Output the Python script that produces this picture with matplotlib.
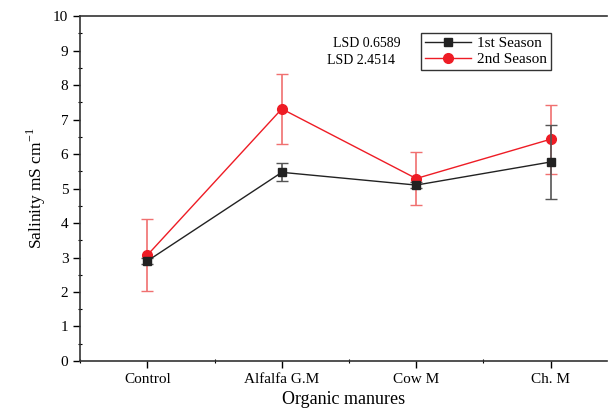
import numpy as np
import matplotlib.pyplot as plt
from matplotlib.ticker import MultipleLocator
from matplotlib.lines import Line2D

plt.rcParams['font.family'] = ['Liberation Serif', 'DejaVu Serif']

# data
categories = ['Control', 'Alfalfa G.M', 'Cow M', 'Ch. M']
season1 = [2.90, 5.47, 5.10, 5.77]
season1_err = [0.10, 0.26, 0.08, 1.07]
season2 = [3.07, 7.31, 5.29, 6.43]
season2_err = [1.05, 1.01, 0.78, 1.00]
lsd_labels = ['LSD 0.6589', 'LSD 2.4514']

x = np.arange(1, len(categories) + 1)

fig = plt.figure(figsize=(6.12, 4.13), dpi=100)
ax = fig.add_axes([0.131, 0.126, 0.861, 0.835])

ax.errorbar(x, season1, yerr=season1_err, color='#222222', ecolor='#555555',
            marker='s', markersize=6, linewidth=1, elinewidth=1.2, capsize=4,
            zorder=3)
ax.errorbar(x, season2, yerr=season2_err, color='#ee1c25', ecolor='#f07070',
            marker='o', markersize=7, linewidth=1, elinewidth=1.2, capsize=4,
            zorder=2)

ax.set_xlim(0.5, 4.42)
ax.set_ylim(0, 10)
ax.set_xticks(x)
ax.set_xticklabels(categories)
ax.xaxis.set_minor_locator(MultipleLocator(0.5))
ax.yaxis.set_major_locator(MultipleLocator(1))
ax.yaxis.set_minor_locator(MultipleLocator(0.5))
ax.tick_params(which='major', direction='out', length=5, width=1, labelsize=11)
ax.tick_params(which='minor', direction='inout', length=3, width=0.8)

ax.spines['right'].set_visible(False)
for s in ['left', 'bottom', 'top']:
    ax.spines[s].set_linewidth(1.2)
    ax.spines[s].set_color('#333333')

ax.set_xlabel('Organic manures', fontsize=13)
ax.set_ylabel('Salinity mS cm$^{\\mathregular{-1}}$', fontsize=12.5)

ax.text(0.48, 0.922, lsd_labels[0], transform=ax.transAxes, fontsize=10, va='center')
ax.text(0.469, 0.87, lsd_labels[1], transform=ax.transAxes, fontsize=10, va='center')

handles = [
    Line2D([], [], color='#222222', marker='s', markersize=6, linewidth=1),
    Line2D([], [], color='#ee1c25', marker='o', markersize=7, linewidth=1),
]
leg = ax.legend(handles, ['1st Season', '2nd Season'], loc='upper left',
                bbox_to_anchor=(0.647, 0.952), fontsize=11,
                frameon=True, fancybox=False, edgecolor='black',
                handlelength=3, handletextpad=0.4, borderpad=0.25,
                labelspacing=0.15, borderaxespad=0)
leg.get_frame().set_linewidth(1)

fig.savefig('out.png', dpi=100)
